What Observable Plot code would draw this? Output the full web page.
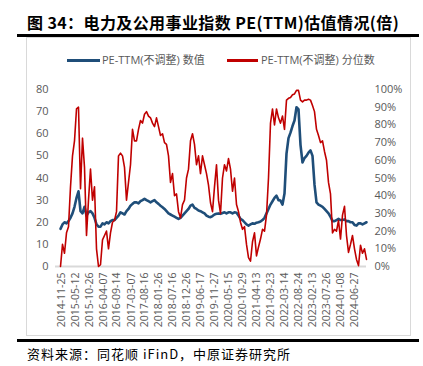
<!DOCTYPE html>
<html><head><meta charset="utf-8">
<script src="https://cdn.jsdelivr.net/npm/d3@7"></script>
<script src="https://cdn.jsdelivr.net/npm/@observablehq/plot@0.6"></script>
<style>
body{margin:0;background:#fff;width:423px;height:366px;position:relative;overflow:hidden;font-family:"Noto Sans CJK SC","Noto Sans",sans-serif;}
#title{position:absolute;left:27px;top:12px;font-size:16px;font-weight:bold;color:#000;white-space:nowrap;line-height:20px;letter-spacing:0.4px;}
.rule{position:absolute;left:17px;width:402px;height:2.5px;background:#000}
#box{position:absolute;left:26px;top:37px;width:385px;height:299px;border:1px solid #d9d9d9;box-sizing:border-box}
.lg{position:absolute;top:53px;font-size:11px;color:#595959;white-space:nowrap;line-height:14px;font-family:"Open Sans","Noto Sans CJK SC",sans-serif}
.sw{position:absolute;height:2.5px;top:59px}
#chart{position:absolute;left:0;top:70px}
#caption{position:absolute;left:27px;top:345px;font-size:13px;color:#000;white-space:nowrap;line-height:18px;letter-spacing:1px}
</style></head>
<body>
<div id="title">图 34：电力及公用事业指数 PE(TTM)估值情况(倍)</div>
<div class="rule" style="top:34px"></div>
<div id="box"></div>
<div class="sw" style="left:67px;width:33px;background:#1f4e79"></div>
<div class="lg" id="lg1" style="left:102px"></div>
<div class="sw" style="left:227px;width:31px;background:#c00000"></div>
<div class="lg" id="lg2" style="left:261px"></div>
<div id="chart"></div>
<div class="rule" style="top:339px"></div>
<div id="caption">资料来源：同花顺 iFinD，中原证券研究所</div>
<script>
const seriesNames = ["PE-TTM(不调整) 数值", "PE-TTM(不调整) 分位数"];
const startDate = "2014-11-13";
const stepDays = 23.9;
const peValue = [
  17, 19, 20, 19.5, 20.5, 22, 24, 27, 31, 34,
  25, 24, 27, 23, 24.5, 25, 24, 22, 19, 18,
  18, 19.5, 19, 20, 19.5, 20.5, 21, 21, 22, 23,
  24.5, 24, 23.5, 25, 26, 27.5, 28.3, 29, 29, 28.5,
  29.5, 30, 30.6, 30, 29.5, 29, 29.5, 30, 29, 28.3,
  27.5, 26.8, 26, 25, 24, 23.5, 23, 22.5, 22, 21.5,
  22, 23, 24, 25, 26, 27.5, 28, 26.5, 26, 25.3,
  25, 24.5, 24, 23, 22.5, 22.3, 22.8, 23.5, 23.8, 24,
  23.8, 24.2, 24.5, 24, 24.5, 24.5, 24, 24.5, 24.3, 23,
  21.5, 21, 20, 19, 18.5, 19, 19.5, 19.3, 19.8, 20,
  20.3, 21, 22, 24, 26, 28, 29.5, 31, 32, 30,
  29.8, 28, 33, 51, 58, 60.5, 63.5, 66, 72, 71,
  55, 47, 49, 50, 51.5, 52.5, 50, 37, 29, 28,
  27.5, 27, 26, 25, 24, 22.5, 20.5, 20.5, 21, 21.5,
  21, 21, 21.3, 20.5, 20.5, 20, 20, 18.8, 18.5, 19.5,
  19.5, 19, 19.5, 20
];
const pePct = [
  0, 12.5, 7.5, 19, 22.5, 45, 62.5, 71, 89, 90,
  44, 72.5, 56, 17.5, 37.5, 55, 37.5, 45, 10, 0,
  1, 15, 17.5, 20, 10, 19, 25, 26, 31, 62.5,
  64, 62.5, 56, 37.5, 47.5, 57.5, 77.5, 71, 71, 77.5,
  82.5, 81, 86, 87.5, 85, 84, 81, 79, 84, 79,
  74, 75, 70, 69, 62.5, 47.5, 52.5, 40, 41, 31,
  27.5, 35, 37.5, 50, 55, 71, 75, 69, 57.5, 62.5,
  52.5, 62.5, 57.5, 52.5, 46, 36, 31, 45, 57.5, 37.5,
  30, 50, 57.5, 54, 61, 55, 42.5, 50, 35, 31,
  25, 21, 22.5, 12.5, 5, 3, 14, 19, 6, 11,
  15.5, 21, 20, 29, 50, 81, 89, 80, 89, 84,
  81, 85, 77.5, 94, 95, 95.5, 97, 97.5, 99.5, 99.5,
  94, 93, 94, 94, 94.5, 94, 91, 87.5, 77.5, 74,
  70, 71, 65, 60, 47.5, 41, 19, 21, 20, 26,
  15.5, 29, 34, 17.5, 8, 12.5, 17.5, 10, 4, 0.5,
  12, 7.5, 10, 4
];
const xTickLabels = ["2014-11-25","2015-05-12","2015-10-26","2016-04-07","2016-09-14","2017-03-07","2017-08-16","2018-01-26","2018-07-16","2018-12-26","2019-06-17","2019-11-27","2020-05-15","2020-10-29","2021-04-13","2021-09-23","2022-03-14","2022-08-24","2023-02-13","2023-07-26","2024-01-08","2024-06-27"];
const leftTicks = [0,10,20,30,40,50,60,70,80];
const rightTicks = [0,10,20,30,40,50,60,70,80,90,100];
const leftMax = 80;

document.getElementById("lg1").textContent = seriesNames[0];
document.getElementById("lg2").textContent = seriesNames[1];

const k = leftMax / 100;
const t0 = +new Date(startDate);
const rows = peValue.map((v, i) => ({date: new Date(t0 + i * stepDays * 864e5), pe: v, pct: pePct[i]}));
const tickDates = xTickLabels.map(s => new Date(s));

const chart = Plot.plot({
  width: 423, height: 270,
  marginLeft: 60, marginRight: 57, marginTop: 19, marginBottom: 74,
  x: {type: "utc", domain: [rows[0].date, rows[rows.length - 1].date], label: null},
  y: {domain: [0, leftMax], label: null},
  style: {background: "transparent", fontFamily: "'Open Sans', 'Noto Sans', sans-serif", fontSize: "11px", color: "#595959"},
  marks: [
    Plot.ruleY([0], {stroke: "#d9d9d9", strokeWidth: 2, insetLeft: -5}),
    Plot.axisY({ticks: leftTicks, tickSize: 0, tickPadding: 12, anchor: "left", label: null}),
    Plot.axisY({ticks: rightTicks.map(p => p * k), tickFormat: v => Math.round(v / k) + "%", anchor: "right", tickSize: 0, tickPadding: 8, label: null}),
    Plot.axisX({ticks: tickDates, tickFormat: d3.utcFormat("%Y-%m-%d"), tickRotate: -90, tickSize: 0, tickPadding: 6, label: null, fontSize: 10.5}),
    Plot.lineY(rows, {x: "date", y: "pe", stroke: "#1f4e79", strokeWidth: 2.6}),
    Plot.lineY(rows, {x: "date", y: d => d.pct * k, stroke: "#c00000", strokeWidth: 1.6})
  ]
});
document.getElementById("chart").appendChild(chart);
</script>
</body></html>
